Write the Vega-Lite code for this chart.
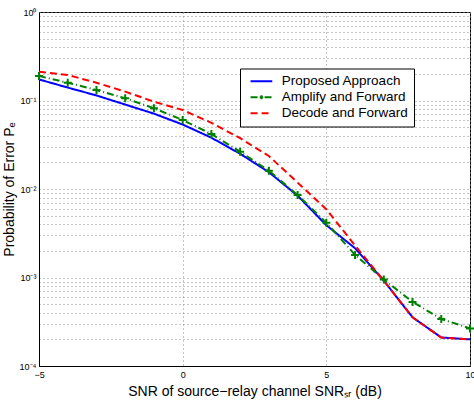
{
  "$schema": "https://vega.github.io/schema/vega-lite/v6.json",
  "width": 431,
  "height": 354,
  "autosize": {"type": "none"},
  "padding": {"left": 39, "top": 12, "right": 4, "bottom": 39},
  "background": "white",
  "config": {
    "font": "Liberation Sans",
    "view": {"stroke": "black", "strokeWidth": 1},
    "axis": {
      "domainColor": "black",
      "labelColor": "black",
      "titleColor": "black",
      "labelFont": "Liberation Sans",
      "titleFont": "Liberation Sans",
      "labelFontSize": 9,
      "titleFontSize": 14,
      "titleFontWeight": "normal",
      "grid": true,
      "gridColor": "#8a8a8a",
      "gridDash": [1, 3],
      "gridOpacity": 1,
      "ticks": false
    }
  },
  "data": {
    "values": [
      {"snr": -5, "pe": 0.173, "series": "Proposed Approach"},
      {"snr": -4, "pe": 0.140, "series": "Proposed Approach"},
      {"snr": -3, "pe": 0.114, "series": "Proposed Approach"},
      {"snr": -2, "pe": 0.090, "series": "Proposed Approach"},
      {"snr": -1, "pe": 0.071, "series": "Proposed Approach"},
      {"snr": 0, "pe": 0.0535, "series": "Proposed Approach"},
      {"snr": 1, "pe": 0.038, "series": "Proposed Approach"},
      {"snr": 2, "pe": 0.025, "series": "Proposed Approach"},
      {"snr": 3, "pe": 0.0155, "series": "Proposed Approach"},
      {"snr": 4, "pe": 0.0084, "series": "Proposed Approach"},
      {"snr": 5, "pe": 0.0039, "series": "Proposed Approach"},
      {"snr": 6, "pe": 0.00214, "series": "Proposed Approach"},
      {"snr": 7, "pe": 0.00092, "series": "Proposed Approach"},
      {"snr": 8, "pe": 0.000355, "series": "Proposed Approach"},
      {"snr": 9, "pe": 0.00021, "series": "Proposed Approach"},
      {"snr": 10, "pe": 0.0002, "series": "Proposed Approach"},
      {"snr": -5, "pe": 0.189, "series": "Amplify and Forward"},
      {"snr": -4, "pe": 0.159, "series": "Amplify and Forward"},
      {"snr": -3, "pe": 0.131, "series": "Amplify and Forward"},
      {"snr": -2, "pe": 0.106, "series": "Amplify and Forward"},
      {"snr": -1, "pe": 0.0817, "series": "Amplify and Forward"},
      {"snr": 0, "pe": 0.0602, "series": "Amplify and Forward"},
      {"snr": 1, "pe": 0.0418, "series": "Amplify and Forward"},
      {"snr": 2, "pe": 0.0264, "series": "Amplify and Forward"},
      {"snr": 3, "pe": 0.0161, "series": "Amplify and Forward"},
      {"snr": 4, "pe": 0.00855, "series": "Amplify and Forward"},
      {"snr": 5, "pe": 0.00416, "series": "Amplify and Forward"},
      {"snr": 6, "pe": 0.0018, "series": "Amplify and Forward"},
      {"snr": 7, "pe": 0.00095, "series": "Amplify and Forward"},
      {"snr": 8, "pe": 0.00053, "series": "Amplify and Forward"},
      {"snr": 9, "pe": 0.00034, "series": "Amplify and Forward"},
      {"snr": 10, "pe": 0.000266, "series": "Amplify and Forward"},
      {"snr": -5, "pe": 0.211, "series": "Decode and Forward"},
      {"snr": -4, "pe": 0.194, "series": "Decode and Forward"},
      {"snr": -3, "pe": 0.159, "series": "Decode and Forward"},
      {"snr": -2, "pe": 0.126, "series": "Decode and Forward"},
      {"snr": -1, "pe": 0.097, "series": "Decode and Forward"},
      {"snr": 0, "pe": 0.078, "series": "Decode and Forward"},
      {"snr": 1, "pe": 0.056, "series": "Decode and Forward"},
      {"snr": 2, "pe": 0.0375, "series": "Decode and Forward"},
      {"snr": 3, "pe": 0.0236, "series": "Decode and Forward"},
      {"snr": 4, "pe": 0.0118, "series": "Decode and Forward"},
      {"snr": 5, "pe": 0.0059, "series": "Decode and Forward"},
      {"snr": 6, "pe": 0.0023, "series": "Decode and Forward"},
      {"snr": 7, "pe": 0.00092, "series": "Decode and Forward"},
      {"snr": 8, "pe": 0.000355, "series": "Decode and Forward"},
      {"snr": 9, "pe": 0.00021, "series": "Decode and Forward"},
      {"snr": 10, "pe": 0.0002, "series": "Decode and Forward"}
    ]
  },
  "encoding": {
    "x": {
      "field": "snr",
      "type": "quantitative",
      "scale": {"domain": [-5, 10], "nice": false, "zero": false},
      "axis": {
        "values": [-5, 0, 5, 10],
        "title": "SNR of source\u2212relay channel SNR\u209b\u1d63 (dB)",
        "labelPadding": 4,
        "titlePadding": 5,
        "labelFlush": false
      }
    },
    "y": {
      "field": "pe",
      "type": "quantitative",
      "scale": {"type": "log", "domain": [0.0001, 1], "nice": false},
      "axis": {
        "values": [0.0001, 0.0002, 0.0003, 0.0004, 0.0005, 0.0006, 0.0007, 0.0008, 0.0009,
                   0.001, 0.002, 0.003, 0.004, 0.005, 0.006, 0.007, 0.008, 0.009,
                   0.01, 0.02, 0.03, 0.04, 0.05, 0.06, 0.07, 0.08, 0.09,
                   0.1, 0.2, 0.3, 0.4, 0.5, 0.6, 0.7, 0.8, 0.9, 1],
        "labelExpr": "datum.value == 1 ? '10\u2070' : datum.value == 0.1 ? '10\u207b\u00b9' : datum.value == 0.01 ? '10\u207b\u00b2' : datum.value == 0.001 ? '10\u207b\u00b3' : datum.value == 0.0001 ? '10\u207b\u2074' : ''",
        "title": "Probability of Error P\u2091",
        "labelPadding": 3,
        "titlePadding": 3,
        "labelFlush": false
      }
    }
  },
  "layer": [
    {
      "mark": {"type": "line", "strokeWidth": 2},
      "encoding": {
        "color": {
          "field": "series",
          "type": "nominal",
          "scale": {
            "domain": ["Proposed Approach", "Amplify and Forward", "Decode and Forward"],
            "range": ["#0000ff", "#008000", "#ff0000"]
          },
          "legend": {
            "title": null,
            "orient": "none",
            "legendX": 201,
            "legendY": 56.5,
            "fillColor": "white",
            "strokeColor": "black",
            "padding": 6,
            "labelFontSize": 13.5,
            "labelColor": "black",
            "labelFont": "Liberation Sans",
            "symbolType": "M-0.4,0H3.55",
            "symbolSize": 121,
            "symbolStrokeWidth": 2,
            "labelOffset": 22.3,
            "rowPadding": 1,
            "encode": {
              "symbols": {
                "update": {
                  "shape": {"signal": "datum.value === 'Amplify and Forward' ? 'M-0.4,0H3.55M1.26,0H1.9M1.58,-0.38V0.38' : 'M-0.4,0H3.55'"}
                }
              }
            }
          }
        },
        "strokeDash": {
          "field": "series",
          "type": "nominal",
          "scale": {
            "domain": ["Proposed Approach", "Amplify and Forward", "Decode and Forward"],
            "range": [[1, 0], [7, 3, 1, 3], [7, 4]]
          },
          "legend": null
        }
      }
    },
    {
      "transform": [{"filter": "datum.series === 'Amplify and Forward'"}],
      "mark": {
        "type": "point",
        "shape": "M-1,0H1M0,-1V1",
        "filled": false,
        "size": 64,
        "strokeWidth": 2,
        "color": "#008000",
        "opacity": 1
      }
    }
  ]
}
